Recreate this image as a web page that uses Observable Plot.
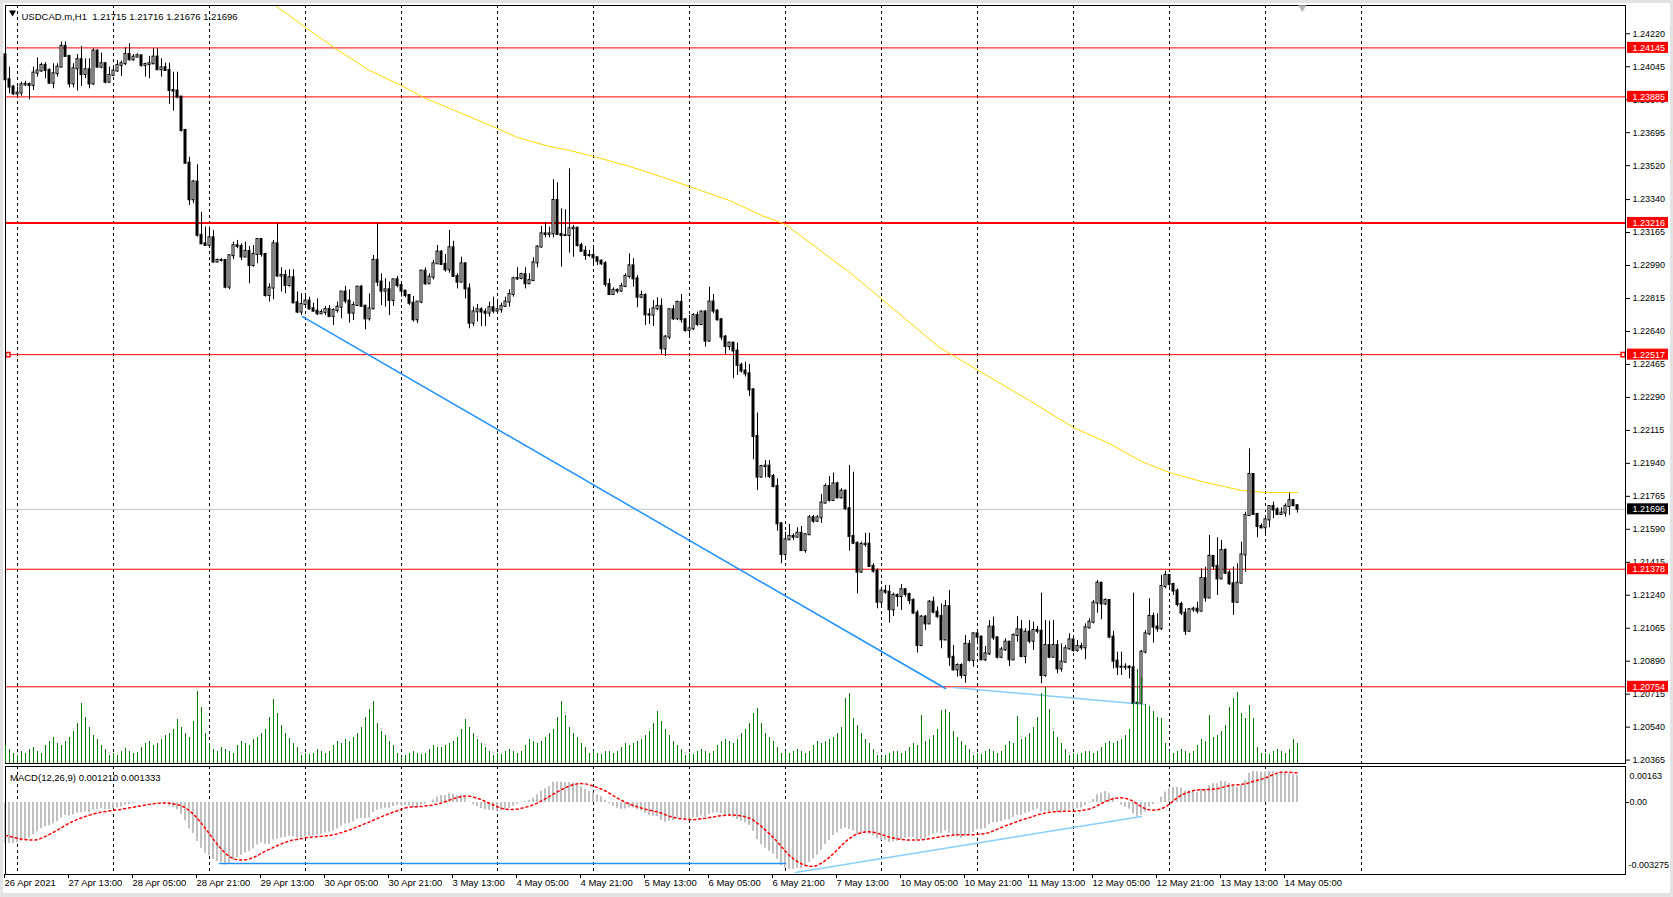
<!DOCTYPE html>
<html><head><meta charset="utf-8">
<script src="https://cdn.jsdelivr.net/npm/d3@7"></script>
<script src="https://cdn.jsdelivr.net/npm/@observablehq/plot@0.6"></script>
<style>
html,body{margin:0;padding:0;background:#fff;overflow:hidden;}
#chart{position:relative;width:1673px;height:897px;background:#fff;overflow:hidden;font-family:"Liberation Sans",Arial,sans-serif;
 box-shadow: inset 3px 3px 0 #e3e3e3, inset -3px -4px 0 #e3e3e3;}
#chart svg{position:absolute;left:0;overflow:visible;}
</style></head><body><div id="chart"></div>
<script>
// ---------- texts ----------
const symbolTitle = "USDCAD.m,H1  1.21715 1.21716 1.21676 1.21696";
const macdTitle = "MACD(12,26,9) 0.001210 0.001333";
const timeLabels = ["26 Apr 2021","27 Apr 13:00","28 Apr 05:00","28 Apr 21:00","29 Apr 13:00","30 Apr 05:00","30 Apr 21:00","3 May 13:00","4 May 05:00","4 May 21:00","5 May 13:00","6 May 05:00","6 May 21:00","7 May 13:00","10 May 05:00","10 May 21:00","11 May 13:00","12 May 05:00","12 May 21:00","13 May 13:00","14 May 05:00"];
const timeLabelBars = [0,16,32,48,64,80,96,112,128,144,160,176,192,208,224,240,256,272,288,304,320];
const dayStartBars = [3,27,51,75,99,123,147,171,195,219,243,267,291,315,339];
const priceTicks = [1.24220,1.24045,1.23870,1.23695,1.23520,1.23340,1.23165,1.22990,1.22815,1.22640,1.22465,1.22290,1.22115,1.21940,1.21765,1.21590,1.21415,1.21240,1.21065,1.20890,1.20715,1.20540,1.20365];
const macdAxisTop = "0.00163", macdAxisZero = "0.00", macdAxisBottom = "-0.003275";

// ---------- H1 candles ----------
const firstOpen = 1.24108;
const closes = [
1.23976,1.23937,1.23901,1.23905,1.23949,1.23951,1.23946,1.24011,1.24022,1.24052,
1.24025,1.23958,1.24008,1.24043,1.24153,1.24100,1.23954,1.24034,1.24082,1.24004,
1.24029,1.23954,1.24128,1.24043,1.24061,1.23963,1.23999,1.24022,1.24052,1.24061,
1.24110,1.24082,1.24096,1.24103,1.24052,1.24057,1.24061,1.24096,1.24029,1.24039,
1.24025,1.23919,1.23916,1.23884,1.23707,1.23533,1.23339,1.23433,1.23150,1.23105,
1.23097,1.23137,1.23008,1.23017,1.23017,1.22875,1.23042,1.23095,1.23091,1.23035,
1.23065,1.22990,1.23049,1.23128,1.23049,1.22831,1.22870,1.23105,1.22934,1.22937,
1.22884,1.22925,1.22792,1.22743,1.22783,1.22801,1.22760,1.22748,1.22734,1.22741,
1.22757,1.22720,
1.22751,1.22769,1.22849,1.22801,1.22737,1.22778,1.22875,1.22774,1.22707,1.22760,
1.23017,1.22902,1.22854,1.22861,1.22805,1.22914,1.22884,1.22854,1.22831,1.22790,
1.22702,1.22796,1.22960,1.22893,1.22928,1.22999,1.23061,1.22996,1.22967,1.23084,
1.22932,1.22902,1.22999,1.22866,1.22684,1.22744,1.22755,1.22743,1.22737,1.22766,
1.22748,1.22755,1.22773,1.22796,1.22836,1.22919,1.22921,1.22942,1.22893,1.22910,
1.23004,1.23088,1.23158,1.23155,1.23158,1.23335,1.23155,1.23149,1.23149,1.23185,
1.23188,1.23096,1.23066,1.23043,1.23043,1.23031,1.23013,1.22999,1.22889,1.22836,
1.22858,1.22854,1.22879,1.22932,1.22988,1.22919,1.22822,1.22831,1.22728,1.22727,
1.22760,1.22773,1.22548,1.22610,1.22755,1.22707,1.22794,1.22702,1.22645,1.22654,
1.22725,1.22677,1.22743,1.22589,1.22796,1.22748,1.22702,1.22610,1.22560,1.22578,
1.22536,1.22460,1.22430,1.22415,1.22330,1.22083,1.21867,
1.21923,1.21925,1.21870,1.21817,1.21619,1.21456,1.21534,1.21552,1.21548,1.21569,
1.21477,1.21561,1.21651,1.21633,1.21651,1.21729,1.21817,1.21743,1.21831,1.21757,
1.21792,1.21699,1.21552,1.21516,1.21363,1.21509,1.21511,1.21393,1.21368,1.21203,
1.21262,1.21256,1.21163,1.21239,1.21233,1.21269,1.21244,1.21212,1.21145,1.20973,
1.21124,1.21088,1.21203,1.21150,1.21127,1.21003,1.21180,1.20911,1.20844,1.20867,
1.20814,1.20979,1.20894,1.21035,1.21018,1.20897,1.20929,1.21071,1.21014,1.20911,
1.20950,1.20991,1.20897,1.21026,1.21056,1.20915,1.21044,1.20996,1.21053,1.21049,
1.20814,1.20973,1.20911,1.20973,1.20849,1.20885,1.20956,1.21003,1.20947,1.20968,
1.20961,1.21067,1.21097,1.21198,1.21304,1.21194,1.21212,1.21018,1.20890,1.20858,
1.20858,1.20858,1.20855,1.20667,1.20667,1.20938,1.21035,1.21127,1.21071,1.21062,
1.21286,1.21345,1.21297,1.21262,1.21191,1.21145,1.21049,1.21163,1.21166,1.21156,
1.21329,1.21226,1.21446,1.21393,1.21327,1.21477,1.21357,1.21301,1.21203,1.21304,
1.21454,1.21663,1.21881,1.21669,1.21605,1.21598,1.21640,1.21711,1.21693,1.21669,
1.21676,1.21711,1.21742,1.21715,1.21696];
const highs = [
1.24114,1.24043,1.23946,1.23937,1.23963,1.23968,1.23958,1.24043,1.24092,1.24064,
1.24066,1.24034,1.24061,1.24061,1.24176,1.24176,1.24100,1.24061,1.24110,1.24153,
1.24087,1.24087,1.24140,1.24135,1.24117,1.24064,1.24043,1.24039,1.24078,1.24075,
1.24146,1.24167,1.24110,1.24114,1.24103,1.24064,1.24100,1.24140,1.24140,1.24087,
1.24064,1.24064,1.24016,1.24016,1.23884,1.23710,1.23565,1.23441,1.23525,1.23273,
1.23194,1.23194,1.23176,1.23024,1.23026,1.23012,1.23042,1.23114,1.23123,1.23105,
1.23114,1.23091,1.23096,1.23132,1.23128,1.23035,1.22893,1.23123,1.23211,1.22978,
1.22964,1.22967,1.22967,1.22849,1.22840,1.22840,1.22822,1.22790,1.22813,1.22755,
1.22773,1.22778,
1.22760,1.22796,1.22849,1.22879,1.22861,1.22796,1.22879,1.22884,1.22778,1.22840,
1.23043,1.23211,1.22946,1.22919,1.22902,1.22907,1.22932,1.22875,1.22858,1.22836,
1.22826,1.22796,1.22964,1.22978,1.22946,1.23017,1.23096,1.23070,1.23049,1.23176,
1.23119,1.22946,1.23034,1.22999,1.22893,1.22769,1.22783,1.22766,1.22760,1.22796,
1.22822,1.22805,1.22790,1.22822,1.22861,1.22928,1.22978,1.22949,1.22978,1.22946,
1.23031,1.23096,1.23197,1.23215,1.23194,1.23445,1.23429,1.23291,1.23286,1.23503,
1.23203,1.23190,1.23109,1.23091,1.23070,1.23096,1.23031,1.23020,1.23011,1.22919,
1.22872,1.22866,1.22896,1.22946,1.23052,1.23026,1.22937,1.22854,1.22840,1.22760,
1.22805,1.22819,1.22813,1.22619,1.22760,1.22778,1.22801,1.22836,1.22707,1.22725,
1.22734,1.22743,1.22748,1.22751,1.22875,1.22836,1.22755,1.22707,1.22619,1.22583,
1.22583,1.22578,1.22472,1.22477,1.22465,1.22336,1.22207,
1.21929,1.21955,1.21955,1.21881,1.21858,1.21623,1.21575,1.21615,1.21566,1.21598,
1.21605,1.21566,1.21663,1.21663,1.21663,1.21775,1.21831,1.21870,1.21888,1.21840,
1.21805,1.21799,1.21929,1.21893,1.21522,1.21522,1.21569,1.21569,1.21407,1.21380,
1.21283,1.21292,1.21292,1.21251,1.21247,1.21297,1.21274,1.21251,1.21221,1.21159,
1.21132,1.21132,1.21212,1.21230,1.21177,1.21194,1.21212,1.21265,1.20973,1.20876,
1.20876,1.21026,1.20999,1.21039,1.21044,1.21017,1.20968,1.21106,1.21124,1.21017,
1.20964,1.21009,1.20991,1.21035,1.21127,1.21106,1.21062,1.21106,1.21097,1.21074,
1.21251,1.21106,1.21102,1.21106,1.21000,1.20982,1.20973,1.21035,1.21000,1.21000,
1.20986,1.21088,1.21115,1.21212,1.21318,1.21304,1.21221,1.21212,1.21049,1.20938,
1.20938,1.20876,1.20867,1.21251,1.20681,1.20947,1.21053,1.21221,1.21145,1.21141,
1.21345,1.21368,1.21327,1.21304,1.21274,1.21203,1.21168,1.21168,1.21177,1.21203,
1.21380,1.21389,1.21557,1.21446,1.21545,1.21531,1.21486,1.21371,1.21389,1.21407,
1.21522,1.21681,1.22017,1.21884,1.21672,1.21619,1.21646,1.21716,1.21734,1.21704,
1.21704,1.21725,1.21781,1.21746,1.21716];
const lows = [
1.23972,1.23901,1.23893,1.23887,1.23889,1.23940,1.23870,1.23919,1.23990,1.24016,
1.23981,1.23951,1.23928,1.23990,1.24046,1.24096,1.23933,1.23933,1.23916,1.23940,
1.23981,1.23928,1.23946,1.24039,1.24034,1.23954,1.23958,1.23999,1.24016,1.23993,
1.24052,1.24075,1.24075,1.24096,1.24043,1.23990,1.23981,1.24055,1.24025,1.23990,
1.24022,1.23845,1.23809,1.23875,1.23698,1.23530,1.23309,1.23318,1.23141,1.23114,
1.23091,1.23088,1.23004,1.23008,1.23008,1.22866,1.22861,1.23021,1.23079,1.23017,
1.23035,1.22893,1.22981,1.22999,1.23035,1.22822,1.22796,1.22808,1.22928,1.22849,
1.22840,1.22875,1.22787,1.22734,1.22725,1.22787,1.22752,1.22743,1.22725,1.22730,
1.22725,1.22713,
1.22672,1.22737,1.22707,1.22787,1.22684,1.22698,1.22773,1.22769,1.22649,1.22695,
1.22755,1.22879,1.22778,1.22769,1.22725,1.22773,1.22872,1.22822,1.22819,1.22778,
1.22690,1.22681,1.22787,1.22884,1.22889,1.22914,1.22996,1.22990,1.22955,1.22949,
1.22928,1.22866,1.22896,1.22813,1.22654,1.22666,1.22690,1.22666,1.22666,1.22716,
1.22734,1.22743,1.22737,1.22769,1.22769,1.22822,1.22910,1.22914,1.22866,1.22889,
1.22907,1.22978,1.23084,1.23137,1.23137,1.23137,1.23149,1.22981,1.23144,1.23056,
1.23034,1.23088,1.23061,1.23017,1.23034,1.22990,1.22990,1.22990,1.22875,1.22831,
1.22836,1.22840,1.22849,1.22872,1.22919,1.22875,1.22766,1.22813,1.22672,1.22677,
1.22666,1.22751,1.22518,1.22507,1.22596,1.22698,1.22698,1.22684,1.22636,1.22613,
1.22645,1.22666,1.22672,1.22557,1.22583,1.22734,1.22695,1.22592,1.22518,1.22539,
1.22389,1.22406,1.22419,1.22398,1.22295,1.21959,1.21796,
1.21863,1.21863,1.21858,1.21810,1.21580,1.21407,1.21433,1.21531,1.21531,1.21545,
1.21474,1.21463,1.21557,1.21622,1.21628,1.21622,1.21725,1.21734,1.21743,1.21752,
1.21752,1.21690,1.21474,1.21509,1.21247,1.21357,1.21495,1.21389,1.21357,1.21168,
1.21173,1.21244,1.21092,1.21127,1.21177,1.21159,1.21230,1.21191,1.21141,1.20933,
1.20968,1.21053,1.21085,1.21141,1.21115,1.20956,1.20998,1.20862,1.20837,1.20805,
1.20796,1.20773,1.20885,1.20858,1.20991,1.20894,1.20890,1.20920,1.21000,1.20902,
1.20903,1.20943,1.20862,1.20894,1.20991,1.20908,1.20876,1.20982,1.20947,1.21035,
1.20770,1.20805,1.20903,1.20908,1.20823,1.20832,1.20880,1.20947,1.20938,1.20938,
1.20947,1.20897,1.21062,1.21088,1.21145,1.21110,1.21186,1.21009,1.20849,1.20814,
1.20814,1.20841,1.20796,1.20660,1.20655,1.20660,1.20929,1.21026,1.20986,1.21044,
1.21053,1.21274,1.21283,1.21239,1.21177,1.21132,1.21026,1.21044,1.21150,1.21141,
1.21150,1.21203,1.21221,1.21375,1.21239,1.21322,1.21350,1.21292,1.21133,1.21198,
1.21301,1.21362,1.21658,1.21663,1.21545,1.21592,1.21562,1.21598,1.21646,1.21663,
1.21663,1.21654,1.21663,1.21711,1.21676];
// tick volumes, one per bar (26 Apr 21:00 ... 14 May 08:00)
const volumes = [
1800,1400,1000,
800,1200,1000,1400,1600,1200,1000,1800,2200,2600,2000,1800,2200,2600,3200,4000,6000,4600,3600,2800,2400,1800,1400,800,
1000,800,1200,1500,1200,1000,1100,1600,2000,2200,1800,2000,2400,2800,3000,3400,4400,3600,3000,2600,4200,7200,5600,3000,
2000,1400,1200,1600,1400,1200,1000,1800,2200,2000,1800,2400,2600,3000,3400,4600,6400,5000,3800,3000,2500,2000,1600,800,
1000,900,1000,1400,1200,1000,1200,1800,2200,2000,2400,2200,2600,3000,3600,4600,5400,6200,4000,3200,2800,2200,1800,1000,
600,800,1000,1200,1000,900,1000,1400,1800,1600,1600,1800,2000,2200,2600,3400,4400,3600,3000,2400,2000,1600,1200,800,
1000,900,1200,1400,1200,1000,1200,1800,2400,2200,2000,2200,2600,3000,3400,4600,6200,4800,3600,3000,2600,2000,1600,1000,
1200,1000,900,1200,1200,1000,1200,1600,2000,1800,2000,2200,2400,2800,3200,4000,5200,4200,3400,2800,2200,1800,1400,800,
1000,900,1200,1400,1200,1000,1200,1800,2200,2400,2200,2000,2400,3000,3400,4000,5000,5500,4000,3000,2600,2200,1600,1000,
1200,1000,1200,1400,1200,1000,1200,1800,2200,2000,2200,2400,2600,3000,3600,6500,7000,4500,3800,3000,2400,2000,1400,800,
600,800,1000,1200,1200,1000,1200,1600,2000,1800,4800,2200,2400,2800,3400,5300,5400,5100,3200,2600,2200,1800,1400,800,
1000,900,1200,1400,1200,1000,1200,1800,2200,2000,4700,2400,2600,3000,3600,4600,7000,7600,5400,3200,2600,2000,1400,800,
1000,900,1000,1200,1200,1000,1200,1600,2000,2200,2000,2200,2400,2800,3400,6100,9400,8600,5900,5700,5200,4600,4500,2000,
1200,1000,1200,1400,1200,1000,1200,1800,2400,2200,4800,2600,2800,3200,3800,5600,6500,7100,5000,4500,5800,4500,1600,1000,
1000,900,1200,1400,1200,1000,1400,2400,2000];

// ---------- overlays ----------
const maBars   = [67.5,76,82.5,91,99,104.5,111,123,128,136,141,147,156,164.5,171,181,189,195,212,233.5,256,267,276,284,291,299,309,315.5,323];
const maValues = [1.24370,1.24238,1.24142,1.24025,1.23945,1.23882,1.23824,1.23717,1.23669,1.23622,1.23601,1.23569,1.23516,1.23457,1.23409,1.23335,1.23256,1.23208,1.22937,1.22555,1.22273,1.22130,1.22045,1.21950,1.21891,1.21844,1.21796,1.21785,1.21785];
const levelPrices = [1.24145,1.23885,1.23216,1.22517,1.21378,1.20754];
const levelWidths = [1,1,2,1,1,1];
const levelHandleBars = [0.6,404.4];
const handlePrice = 1.22517;
const bidPrice = 1.21696;
const trendPriceBars = [74.25,235], trendPriceVals = [1.22719,1.20745];
const trendPrice2Bars = [237,285], trendPrice2Vals = [1.20750,1.20660];
const trendMacdBars = [53.5,195], trendMacdVals = [-0.00277,-0.00277];
const trendMacd2Bars = [197.5,284], trendMacd2Vals = [-0.00318,-0.00064];
const macdSeed = {ema12: 1.2412, ema26: 1.2431, priorMacd: -0.00145};

// ---------- build ----------
const W = 1673;
const bars = closes.map((c, i) => {
  const o = i ? closes[i - 1] : firstOpen;
  return {i, o, c, h: Math.max(highs[i], o, c), l: Math.min(lows[i], o, c), v: volumes[i] || 0};
});
const k12 = 2 / 13, k26 = 2 / 27;
let e12 = macdSeed.ema12, e26 = macdSeed.ema26;
const macdMain = closes.map(c => { e12 += (c - e12) * k12; e26 += (c - e26) * k26; return e12 - e26; });
const macdData = macdMain.map((m, i) => {
  let s = 0; for (let j = i - 8; j <= i; j++) s += j >= 0 ? macdMain[j] : macdSeed.priorMacd;
  return {i, m, s: s / 9};
});
const pts = (xs, ys) => xs.map((x, k) => ({x, y: ys[k]}));
const levelData = levelPrices.map((p, k) => ({p, w: levelWidths[k]}));
const font = {fontFamily: "Liberation Sans, Arial, sans-serif"};
const xScale = {domain: [0, 405], axis: null};

const main = Plot.plot({
  width: W, height: 766, marginLeft: 5, marginRight: 48, marginTop: 5, marginBottom: 3,
  style: {background: "transparent", ...font},
  x: xScale,
  y: {domain: [1.20347, 1.24370], axis: null},
  marks: [
    Plot.ruleX(dayStartBars, {x: d => d, stroke: "#000", strokeDasharray: "3,3"}),
    Plot.ruleY(levelData, {y: "p", stroke: "#ff0000", strokeWidth: "w"}),
    Plot.ruleY([bidPrice], {y: d => d, stroke: "#c0c0c0"}),
    Plot.line(pts(maBars, maValues), {x: "x", y: "y", stroke: "#ffd700", strokeWidth: 1, clip: true}),
    Plot.line(pts(trendPriceBars, trendPriceVals), {x: "x", y: "y", stroke: "#1e90ff"}),
    Plot.line(pts(trendPrice2Bars, trendPrice2Vals), {x: "x", y: "y", stroke: "#87cefa"}),
    Plot.ruleX(bars, {x: "i", y1: "l", y2: "h", stroke: "#000"}),
    Plot.rect(bars, {x1: d => d.i - 0.25, x2: d => d.i + 0.25, y1: "o", y2: "c",
      fill: d => d.c >= d.o ? "#fff" : "#000", stroke: "#000", insetTop: -0.5, insetBottom: -0.5}),
    Plot.dot(levelHandleBars, {x: d => d, y: () => handlePrice, symbol: "square", r: 2.3, stroke: "#ff0000", fill: "#fff"}),
    Plot.frame({stroke: "#000"}),
    Plot.axisY(priceTicks, {anchor: "right", tickSize: 4, tickPadding: 3, fontSize: 9, tickFormat: d => d.toFixed(5), fill: "#000"}),
    Plot.rect(levelData, {y1: "p", y2: "p", insetTop: -5.5, insetBottom: -5.5, insetLeft: 1622, insetRight: -43, fill: "#ff0000"}),
    Plot.text(levelData, {y: "p", text: d => d.p.toFixed(5), frameAnchor: "right", textAnchor: "start", dx: 7, fill: "#fff", fontSize: 9}),
    Plot.rect([bidPrice], {y1: d => d, y2: d => d, insetTop: -5.5, insetBottom: -5.5, insetLeft: 1622, insetRight: -43, fill: "#000"}),
    Plot.text([bidPrice], {y: d => d, text: d => d.toFixed(5), frameAnchor: "right", textAnchor: "start", dx: 7, fill: "#fff", fontSize: 9}),
    Plot.dot([0], {frameAnchor: "top-left", dx: 7, dy: 7, symbol: "triangle", rotate: 180, r: 2.6, fill: "#000"}),
    Plot.text([symbolTitle], {text: d => d, frameAnchor: "top-left", textAnchor: "start", dx: 16, dy: 8, fontSize: 9.5, fill: "#000"}),
    Plot.dot([324.2], {x: d => d, frameAnchor: "top", dy: 2, symbol: "triangle", rotate: 180, r: 3, fill: "#b8b8b8"})
  ]
});
main.style.top = "0px";

const vol = Plot.plot({
  width: W, height: 766, marginLeft: 5, marginRight: 48, marginTop: 5, marginBottom: 3,
  style: {background: "transparent"},
  x: xScale, y: {domain: [0, 75800], axis: null},
  marks: [Plot.ruleX(bars.filter(b => b.v > 0), {x: "i", y1: 0, y2: "v", stroke: "#008000"})]
});
vol.style.top = "0px"; vol.style.pointerEvents = "none";

const macd = Plot.plot({
  width: W, height: 133, marginLeft: 5, marginRight: 48, marginTop: 2, marginBottom: 23,
  style: {background: "transparent", ...font},
  x: xScale,
  y: {domain: [-0.003275, 0.00163], axis: null},
  marks: [
    Plot.ruleX(dayStartBars, {x: d => d, stroke: "#000", strokeDasharray: "3,3"}),
    Plot.ruleX(macdData, {x: "i", y1: 0, y2: "m", stroke: "#c0c0c0", strokeWidth: 2, dx: -0.5}),
    Plot.line(macdData, {x: "i", y: "s", stroke: "#ff0000", strokeDasharray: "2,3"}),
    Plot.line(pts(trendMacdBars, trendMacdVals), {x: "x", y: "y", stroke: "#1e90ff"}),
    Plot.line(pts(trendMacd2Bars, trendMacd2Vals), {x: "x", y: "y", stroke: "#87cefa"}),
    Plot.frame({stroke: "#000"}),
    Plot.axisX(timeLabelBars, {anchor: "bottom", tickSize: 4, tickPadding: 1, textAnchor: "start", dx: -1, fontSize: 9.5,
      tickFormat: d => timeLabels[timeLabelBars.indexOf(d)], fill: "#000"}),
    Plot.axisY([0], {anchor: "right", tickSize: 3, tickPadding: 1, fontSize: 9, tickFormat: () => macdAxisZero, fill: "#000"}),
    Plot.text([macdAxisTop], {text: d => d, frameAnchor: "top-right", textAnchor: "start", dx: 4, dy: 6, fontSize: 9, fill: "#000"}),
    Plot.text([macdAxisBottom], {text: d => d, frameAnchor: "bottom-right", textAnchor: "start", dx: 3, dy: -7, fontSize: 9, fill: "#000"}),
    Plot.text([macdTitle], {text: d => d, frameAnchor: "top-left", textAnchor: "start", dx: 4.5, dy: 8, fontSize: 9.5, fill: "#000"})
  ]
});
macd.style.top = "764px";

const root = document.getElementById("chart");
root.append(main, macd, vol);
</script></body></html>
